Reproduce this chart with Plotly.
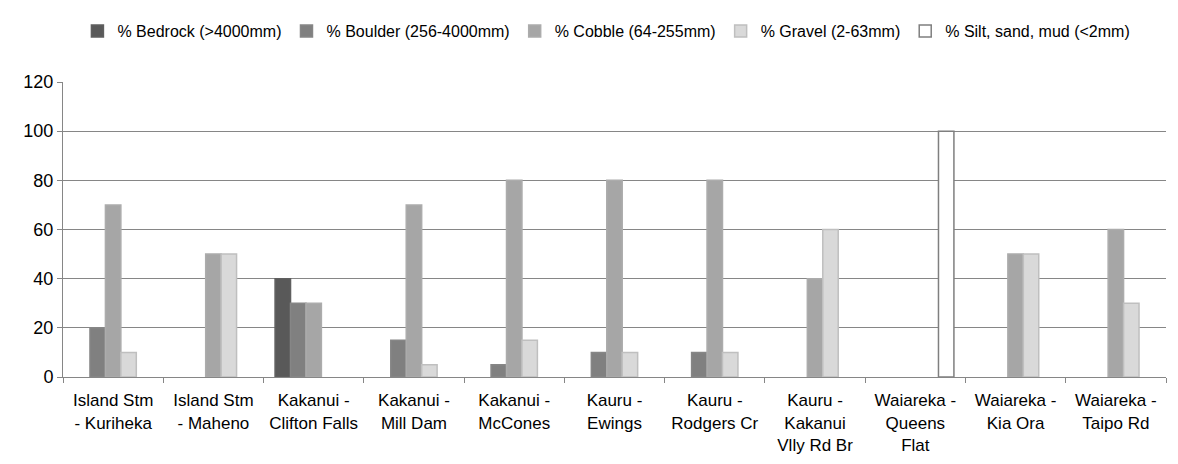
import plotly.graph_objects as go

#______________ Data ______________

sites = [
    "Island Stm<br>- Kuriheka", "Island Stm<br>- Maheno", "Kakanui -<br>Clifton Falls",
    "Kakanui -<br>Mill Dam", "Kakanui -<br>McCones", "Kauru -<br>Ewings",
    "Kauru -<br>Rodgers Cr", "Kauru -<br>Kakanui<br>Vlly Rd Br", "Waiareka -<br>Queens<br>Flat",
    "Waiareka -<br>Kia Ora", "Waiareka -<br>Taipo Rd",
]
bedrock = [0, 0, 40, 0, 0, 0, 0, 0, 0, 0, 0]
boulder = [20, 0, 30, 15, 5, 10, 10, 0, 0, 0, 0]
cobble = [70, 50, 30, 70, 80, 80, 80, 40, 0, 50, 60]
gravel = [10, 50, 0, 5, 15, 10, 10, 60, 0, 50, 30]
silt = [0, 0, 0, 0, 0, 0, 0, 0, 100, 0, 0]

y_ticks = [0, 20, 40, 60, 80, 100, 120]

series = [
    ("% Bedrock (>4000mm)", bedrock, "#595959", "#5f5f5f"),
    ("% Boulder (256-4000mm)", boulder, "#808080", "#868686"),
    ("% Cobble (64-255mm)", cobble, "#a6a6a6", "#acacac"),
    ("% Gravel (2-63mm)", gravel, "#d9d9d9", "#bfbfbf"),
    ("% Silt, sand, mud (<2mm)", silt, "#ffffff", "#7f7f7f"),
]

fig = go.Figure()
for name, vals, fill, edge in series:
    # empty bars left out, otherwise their outline shows as a stub on the axis
    fig.add_trace(go.Bar(
        x=sites, y=[v if v else None for v in vals], name=name,
        marker=dict(color=fill, line=dict(color=edge, width=1.5)),
    ))

font_family = "Liberation Sans, Arial"

# page body adds an 8px offset, margins account for it
fig.update_layout(
    width=1178, height=464,
    barmode="group", bargap=0.23, bargroupgap=0,
    plot_bgcolor="white", paper_bgcolor="white",
    margin=dict(l=55, r=20, t=74, b=95),
    font=dict(family=font_family, size=18, color="#000000"),
    legend=dict(
        orientation="h", xref="container", x=0.508, xanchor="center",
        yref="container", y=0.95, yanchor="middle",
        font=dict(size=16), itemwidth=30, traceorder="normal",
    ),
)
fig.update_yaxes(
    range=[0, 120], tickvals=y_ticks, showgrid=True, gridcolor="#868686", gridwidth=1,
    showline=True, linecolor="#868686", linewidth=1,
    ticks="outside", ticklen=5, tickcolor="#868686", zeroline=False,
    tickfont=dict(size=18), automargin=False,
)
fig.update_xaxes(
    showgrid=False, showline=True, linecolor="#868686", linewidth=1,
    ticks="outside", ticklen=5, tickcolor="#868686", tickson="boundaries",
    tickangle=0, tickfont=dict(size=17), ticklabelstandoff=8, automargin=False,
)

fig.write_html("out.html")
